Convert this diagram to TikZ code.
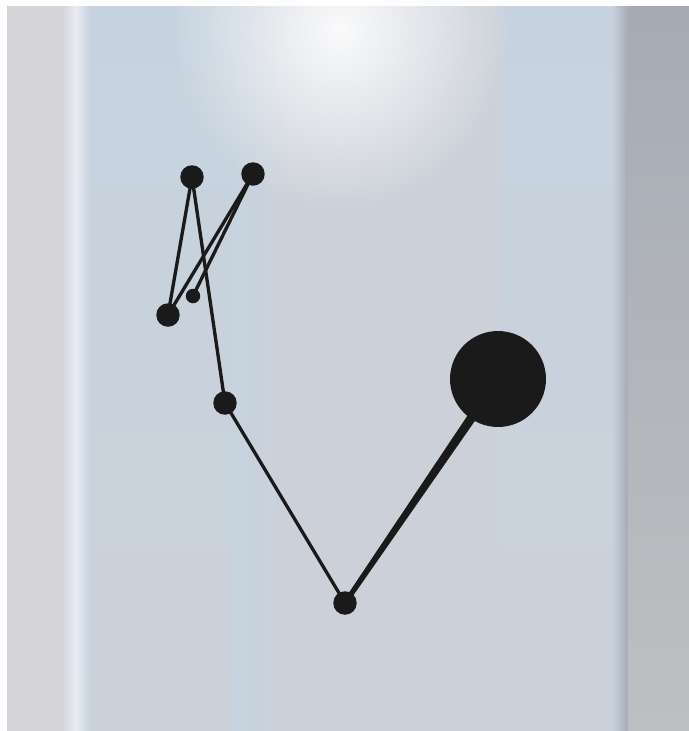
\documentclass[tikz,border=0pt]{standalone}
\usetikzlibrary{calc,fadings}

\definecolor{bgbase}{RGB}{204,209,217}
\definecolor{bgleft}{RGB}{212,212,216}
\definecolor{bgstripe}{RGB}{234,236,242}
\definecolor{bgblue}{RGB}{198,211,223}
\definecolor{bgright}{RGB}{166,171,180}
\definecolor{bgrightlow}{RGB}{190,191,194}
\definecolor{dotcol}{RGB}{26,26,26}

\tikzfading[name=glowfade, inner color=transparent!0, outer color=transparent!100]

\tikzset{
  dot/.style={circle, fill=dotcol, inner sep=0pt, minimum size=0.47cm},
  smalldot/.style={dot, minimum size=0.29cm},
  bigdot/.style={dot, minimum size=1.92cm},
  link/.style={draw=dotcol, line width=1.9pt}
}

\begin{document}
\begin{tikzpicture}[x=0.02cm, y=-0.02cm, >=stealth, line width=1.9pt]

    \useasboundingbox (0,0) rectangle (689,731);

    % === 背景 ===
    \fill[white] (0,0) rectangle (689,731);
    \fill[bgbase] (7,6) rectangle (689,731);
    \fill[bgleft] (7,6) rectangle (62,731);
    \shade[left color=bgleft, right color=bgstripe] (62,6) rectangle (76,731);
    \shade[left color=bgstripe, right color=bgblue] (76,6) rectangle (90,731);
    \shade[top color=bgblue, bottom color=bgbase] (90,6) rectangle (230,731);
    \shade[left color=bgblue, right color=bgbase] (230,6) rectangle (290,731);
    \shade[top color=bgblue, bottom color=bgbase] (500,6) rectangle (612,731);
    \shade[left color=bgblue!70!bgbase, right color=bgright] (612,6) rectangle (628,731);
    \shade[top color=bgright, bottom color=bgrightlow] (628,6) rectangle (689,731);
    \fill[white, opacity=0.9, path fading=glowfade] (340,30) ellipse (3.4cm and 3.6cm);

    % === 顶点 ===
    \node[dot] (A) at (192,177) {};
    \node[dot] (B) at (253,174) {};
    \node[dot] (C) at (168,315) {};
    \node[smalldot] (D) at (193,296) {};
    \node[dot] (E) at (225,403) {};
    \node[dot] (F) at (345,603) {};
    \node[bigdot] (G) at (498,379) {};

    % === 连线 ===
    \draw[link] (A.center) -- (C.center);
    \draw[link] (A.center) -- (E.center);
    \draw[link] (B.center) -- (C.center);
    \draw[link] (B.center) -- (D.center);
    \draw[link] (E.center) -- (F.center);

    % === 渐粗的连线 F--G ===
    \fill[dotcol] ($(F)!0.05cm!90:(G)$) -- ($(G)!0.1cm!-90:(F)$)
        -- ($(G)!0.1cm!90:(F)$) -- ($(F)!0.05cm!-90:(G)$) -- cycle;

    % === 白边 ===
    \fill[white] (0,0) rectangle (689,6);
    \fill[white] (0,0) rectangle (7,731);

\end{tikzpicture}
\end{document}
